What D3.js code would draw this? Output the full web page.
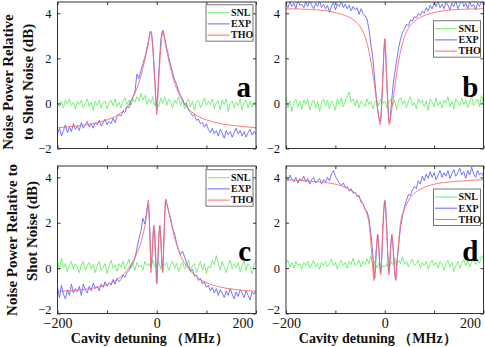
<!DOCTYPE html>
<html>
<head>
<meta charset="utf-8">
<title></title>
<script src="https://cdn.jsdelivr.net/npm/d3@7"></script>
<style>
  body { margin: 0; background: #fff; }
  svg { display: block; }
  svg text { font-family: "Liberation Serif", "Times New Roman", serif !important; }
  .tick line { stroke: #333; }
</style>
</head>
<body>
<script>
// detuning grids (MHz) for the measured traces
const snlDetuning = d3.range(-200, 201, 4);
const expDetuning = d3.range(-200, -24, 4).concat(d3.range(-24, 24, 2), d3.range(24, 201, 4));

// ---- panel a ----
const snlA = [
  0.05, -0.15, 0.1, -0.2, 0.15, -0.05, 0.2, -0.1, 0.05, -0.25,
  0.1, -0.05, 0.15, -0.2, 0.0, 0.2, -0.15, 0.05, -0.3, 0.1,
  -0.1, 0.15, -0.2, 0.05, 0.1, -0.25, 0.0, 0.15, -0.1, 0.2,
  -0.15, 0.05, -0.2, 0.1, 0.25, -0.05, 0.15, -0.1, 0.2, 0.05,
  0.3, 0.1, 0.45, 0.15, 0.35, -0.05, 0.2, 0.0, 0.3, -0.1,
  0.05,
  -0.15, 0.25, 0.0, 0.3, -0.1, 0.2, 0.05, -0.2, 0.15, 0.0,
  0.3, -0.1, 0.15, -0.25, 0.05, 0.2, -0.15, 0.1, -0.3, 0.05,
  0.15, -0.2, 0.0, 0.25, -0.1, 0.1, -0.05, 0.2, -0.25, 0.05,
  0.1, -0.3, 0.15, -0.05, 0.2, -0.35, 0.0, 0.1, -0.2, 0.05,
  -0.1, 0.2, -0.3, 0.05, 0.15, -0.2, 0.1, -0.15, 0.05, 0.0
];
const expA = [
  -1.35, -1.1, -1.45, -1.2, -0.95, -1.3, -1.05, -1.25, -0.9, -1.15,
  -1.0, -1.2, -0.85, -1.1, -0.95, -0.8, -1.05, -0.9, -1.1, -0.85,
  -0.95, -0.75, -1.0, -0.85, -0.7, -0.95, -0.8, -0.9, -0.65, -0.85,
  -0.6, -0.5, -0.55, -0.35, -0.4, -0.15, -0.2, 0.1, 0.3, 0.5,
  1.3, 1.1, 1.45, 1.75,
  2.05, 2.2, 2.45, 2.6, 2.85, 3.1, 3.2, 3.05, 2.6, 1.9, 1.1, 0.3,
  -0.3, 0.4, 1.3, 2.1, 2.75, 3.1, 3.25, 3.1, 2.9, 2.7, 2.45, 2.3,
  2.05, 1.7, 1.35, 1.05, 0.85, 0.55, 0.35, 0.2, -0.05, 0.0,
  -0.3, -0.4, -0.55, -0.5, -0.75, -0.7, -0.9, -0.85, -1.05, -0.9,
  -1.15, -1.3, -1.1, -1.35, -1.2, -1.45, -1.15, -1.3, -1.55, -1.2,
  -1.4, -1.25, -1.5, -1.3, -1.1, -1.35, -1.2, -1.45, -1.25, -1.5,
  -1.3, -1.15, -1.4, -1.25, -1.35
];
const thoDetuningA = [-200, -175, -150, -125, -100, -80, -60, -50, -40, -30, -25, -20, -16, -13, -10, -7, -4, -2, 0,
  2, 4, 7, 10, 13, 16, 20, 25, 30, 40, 50, 60, 80, 100, 125, 150, 175, 200];
const thoA = [-1.08, -1.03, -0.97, -0.88, -0.73, -0.53, -0.14, 0.19, 0.67, 1.37, 1.84, 2.35, 2.8, 3.2, 2.9, 2.1, 1.0, 0.2, -0.5,
  0.2, 1.0, 2.1, 2.9, 3.22, 2.8, 2.35, 1.84, 1.37, 0.67, 0.19, -0.14, -0.53, -0.73, -0.88, -0.97, -1.03, -1.08];

// ---- panel b ----
const snlB = [
  0.3, -0.2, 0.1, -0.35, 0.05, 0.2, -0.15, 0.1, -0.25, 0.15,
  -0.05, 0.2, -0.3, 0.0, 0.15, -0.2, 0.1, -0.35, 0.05, 0.2,
  -0.1, 0.15, -0.25, 0.1, 0.0, -0.3, 0.2, -0.05, 0.25, -0.15,
  0.1, 0.3, 0.5, 0.05, 0.2, -0.1, 0.15, -0.2, 0.1, 0.0,
  -0.15, 0.2, -0.05, 0.1, -0.25, 0.05, 0.15, -0.1, 0.2, 0.0,
  0.1,
  -0.2, 0.05, 0.2, -0.1, 0.15, -0.3, 0.1, 0.25, -0.05, 0.15,
  -0.2, 0.1, 0.3, -0.1, 0.05, -0.25, 0.2, 0.0, 0.15, -0.15,
  0.1, -0.3, 0.2, 0.05, -0.15, 0.25, -0.1, 0.1, -0.2, 0.15,
  0.0, 0.3, -0.15, 0.1, -0.25, 0.2, 0.05, -0.1, 0.25, -0.05,
  0.15, -0.2, 0.1, 0.3, -0.1, 0.05, 0.2, -0.15, 0.35, -0.05
];
const expB = [
  4.4, 4.25, 4.5, 4.3, 4.45, 4.2, 4.6, 4.35, 4.4, 4.25,
  4.5, 4.3, 4.6, 4.35, 4.2, 4.45, 4.3, 4.55, 4.25, 4.4,
  4.2, 4.35, 4.05, 4.3, 4.5, 4.15, 4.4, 4.3, 4.55, 4.25,
  4.4, 4.2, 4.35, 4.1, 4.3, 4.15, 4.25, 3.95, 4.2, 4.0,
  3.9, 3.75, 3.3, 2.6,
  2.0, 1.5, 1.0, 0.5, 0.0, -0.35, -0.6, -0.8, -0.75, 0.0, 1.1, 2.2,
  2.85, 2.2, 1.1, 0.0, -0.75, -0.85, -0.4, 0.1, 0.6, 1.0, 1.3, 1.6,
  1.9, 2.45, 2.85, 3.15, 3.3, 3.5, 3.45, 3.7, 3.65, 3.85,
  3.8, 4.0, 3.9, 4.1, 4.0, 4.25, 4.1, 4.35, 4.2, 4.45,
  4.3, 4.55, 4.25, 4.4, 4.2, 4.5, 4.35, 4.15, 4.45, 4.3,
  4.55, 4.2, 4.4, 4.6, 4.3, 4.45, 4.2, 4.5, 4.3, 4.4,
  4.15, 4.45, 4.3, 4.55, 4.35
];
const thoDetuningB = [-200, -150, -100, -75, -60, -50, -40, -34, -30, -26, -22, -18, -14, -11, -9, -7, -5, -3, -1.5, 0,
  1.5, 3, 5, 7, 9, 11, 14, 18, 22, 26, 30, 34, 40, 50, 60, 75, 100, 150, 200];
const thoB = [4.2, 4.17, 4.03, 3.85, 3.65, 3.4, 2.96, 2.5, 2.1, 1.6, 1.0, 0.35, -0.3, -0.75, -0.95, -0.3, 0.6, 1.6, 2.4, 2.88,
  2.4, 1.6, 0.6, -0.3, -0.95, -0.75, -0.3, 0.35, 1.0, 1.6, 2.1, 2.5, 2.96, 3.4, 3.65, 3.85, 4.03, 4.17, 4.2];

// ---- panel c ----
const snlC = [
  0.3, -0.1, 0.45, 0.0, 0.2, -0.15, 0.1, 0.3, -0.05, 0.2,
  0.05, -0.2, 0.15, 0.3, -0.1, 0.1, 0.25, -0.05, 0.15, -0.2,
  0.1, 0.3, -0.1, 0.05, 0.2, -0.25, 0.1, 0.35, 0.0, 0.15,
  -0.15, 0.2, 0.05, 0.3, -0.05, 0.15, 0.4, 0.0, 0.2, -0.1,
  0.25, 0.05, 0.15, -0.1, 0.3, 0.1, 0.2, 0.0, 0.35, 0.05,
  0.15,
  0.3, -0.05, 0.2, 0.1, 0.25, -0.1, 0.15, 0.3, 0.0, 0.2,
  -0.15, 0.1, 0.25, -0.05, 0.15, 0.35, -0.1, 0.1, 0.2, -0.2,
  0.05, 0.3, -0.1, 0.2, -0.25, 0.1, 0.0, 0.35, 0.15, 0.55,
  0.2, -0.1, 0.3, 0.05, -0.2, 0.15, 0.35, -0.05, 0.2, 0.0,
  0.25, -0.15, 0.1, 0.3, -0.1, 0.2, 0.05, -0.25, 0.15, 0.3
];
const expC = [
  -0.85, -1.3, -0.75, -1.15, -1.35, -0.95, -1.2, -0.7, -1.1, -0.9,
  -1.05, -0.8, -1.2, -0.7, -0.95, -1.1, -0.8, -1.0, -0.65, -0.9,
  -0.8, -1.0, -0.7, -0.85, -0.6, -0.8, -0.65, -0.75, -0.5, -0.7,
  -0.45, -0.6, -0.5, -0.3, -0.4, -0.2, -0.1, 0.1, 0.2, 0.45,
  0.85, 1.3, 1.6, 2.2,
  1.95, 2.25, 2.55, 2.85, 2.6, 1.6, 0.1, 0.3, 1.2, 1.85, 1.6, 0.5,
  -0.65, 0.3, 1.3, 1.85, 1.4, 0.4, -0.15, 0.9, 2.3, 3.0, 2.85, 2.7,
  2.5, 2.2, 1.75, 1.5, 1.1, 0.8, 0.6, 0.75, 0.5, 0.25,
  0.05, -0.15, -0.05, -0.35, -0.3, -0.55, -0.45, -0.7, -0.6, -0.85,
  -0.75, -1.0, -0.85, -1.1, -0.9, -1.2, -0.95, -1.1, -1.3, -1.0,
  -1.2, -0.9, -1.15, -1.35, -1.05, -1.25, -0.95, -1.1, -1.3, -1.0,
  -1.2, -1.4, -1.05, -1.15, -1.0
];
const thoDetuningC = [-200, -175, -150, -125, -100, -80, -60, -50, -40, -33, -27, -22, -19, -17, -15, -13, -11.5, -9.5, -7.5, -6, -4.5, -2.5, 0,
  2.5, 4.5, 6, 7.5, 9.5, 12, 14, 16, 18, 20, 23, 27, 33, 40, 50, 60, 80, 100, 125, 150, 175, 200];
const thoC = [-1.03, -1.0, -0.95, -0.87, -0.72, -0.5, -0.1, 0.22, 0.65, 1.05, 1.55, 2.1, 2.6, 3.0, 2.3, 0.8, -0.2, 0.6, 1.5, 1.9, 1.5, 0.4, -0.7,
  0.4, 1.5, 1.9, 1.5, 0.6, -0.2, 0.9, 2.3, 3.05, 2.85, 2.6, 2.2, 1.6, 1.05, 0.45, 0.1, -0.38, -0.64, -0.82, -0.92, -0.98, -1.02];

// ---- panel d ----
const snlD = [
  0.2, 0.35, 0.05, 0.25, 0.0, 0.3, 0.1, 0.2, -0.05, 0.25,
  0.1, 0.3, 0.0, 0.15, 0.35, 0.05, 0.2, -0.05, 0.25, 0.1,
  0.3, 0.05, 0.2, 0.4, 0.1, 0.25, -0.05, 0.2, 0.35, 0.1,
  0.25, 0.0, 0.3, 0.15, 0.45, 0.1, 0.2, 0.35, 0.05, 0.3,
  0.15, 0.4, 0.2, 0.55, 0.1, 0.3, 0.0, 0.2, -0.05, 0.1,
  0.05,
  0.2, -0.05, 0.3, 0.15, 0.45, 0.1, 0.35, 0.2, 0.5, 0.15,
  0.3, 0.05, 0.25, 0.4, 0.1, 0.2, 0.35, 0.0, 0.25, 0.1,
  0.3, -0.05, 0.2, 0.35, 0.1, 0.25, 0.0, 0.3, 0.15, -0.1,
  0.2, 0.35, 0.05, 0.25, -0.15, 0.1, 0.3, 0.0, 0.2, 0.4,
  0.1, 0.3, 0.05, 0.25, 0.45, 0.15, 0.35, 0.2, 0.55, 0.4
];
const expD = [
  4.05, 3.85, 4.1, 3.9, 3.8, 4.0, 3.75, 3.95, 3.85, 4.05,
  3.8, 3.95, 3.7, 3.9, 4.0, 3.75, 3.85, 3.95, 3.7, 3.9,
  3.8, 4.0, 3.85, 4.15, 4.3, 4.05, 3.9, 3.75, 3.65, 3.75,
  3.55, 3.6, 3.4, 3.5, 3.3, 3.35, 3.15, 3.2, 2.9, 2.85,
  2.6, 2.5, 2.2, 1.5,
  0.6, -0.3, -0.45, 0.4, 1.1, 1.45, 0.9, 0.1, -0.2, 0.5, 1.6, 2.5,
  2.95, 2.6, 1.8, 0.7, -0.15, 0.2, 1.0, 1.45, 1.2, 0.5, -0.2, -0.5,
  0.1, 1.0, 1.8, 2.3, 2.7, 3.0, 3.25, 3.2, 3.45, 3.6,
  3.5, 3.85, 3.7, 4.05, 3.85, 4.15, 3.95, 4.25, 4.0, 4.2,
  3.9, 4.1, 4.3, 4.0, 4.2, 4.05, 4.3, 3.95, 4.15, 4.35,
  4.05, 4.2, 4.4, 4.1, 4.25, 3.95, 4.3, 4.1, 4.45, 4.15,
  4.0, 4.3, 4.1, 4.2, 4.05
];
const thoDetuningD = [-200, -150, -100, -75, -60, -50, -40, -35, -32, -28, -25, -22, -20, -18, -16, -14.5, -13, -11, -8.5, -6, -4, -2, 0,
  2, 4, 6, 8.5, 11, 13, 14.5, 16, 18, 20, 22, 25, 28, 32, 35, 40, 50, 60, 75, 100, 150, 200];
const thoD = [3.9, 3.83, 3.7, 3.5, 3.3, 3.05, 2.6, 2.3, 2.0, 1.1, 0.3, -0.55, -0.1, 0.6, 1.2, 1.5, 1.2, 0.4, -0.3, 0.6, 1.7, 2.6, 3.0,
  2.6, 1.7, 0.6, -0.3, 0.4, 1.2, 1.5, 1.2, 0.6, -0.1, -0.55, 0.3, 1.1, 2.0, 2.3, 2.6, 3.05, 3.3, 3.5, 3.7, 3.83, 3.9];

const xTicks = [-200, -100, 0, 100, 200];
const xTickLabels = {"-200": "\u2212200", "0": "0", "200": "200"};
const yTicks = [-2, 0, 2, 4];
const yTickLabels = {"-2": "\u22122", "0": "0", "2": "2", "4": "4"};
const seriesNames = ["SNL", "EXP", "THO"];
const seriesColors = ["#6af06a", "#6666ff", "#ff6a6a"];

const panels = [
  {letter: "a", snl: snlA, exp: expA, thoX: thoDetuningA, tho: thoA, x0: 57.5, x1: 256, y0: 2, y1: 148.5, legendTop: 2.7, bottomRow: false},
  {letter: "b", snl: snlB, exp: expB, thoX: thoDetuningB, tho: thoB, x0: 286, x1: 483.5, y0: 2, y1: 148.5, legendTop: 18.7, bottomRow: false},
  {letter: "c", snl: snlC, exp: expC, thoX: thoDetuningC, tho: thoC, x0: 57.5, x1: 256, y0: 166, y1: 313.5, legendTop: 3.7, bottomRow: true},
  {letter: "d", snl: snlD, exp: expD, thoX: thoDetuningD, tho: thoD, x0: 286, x1: 483.5, y0: 166, y1: 313.5, legendTop: 23, bottomRow: true}
];

const svg = d3.select("body").append("svg")
  .attr("width", 485)
  .attr("height", 347);

panels.forEach(function(p, i) {
  const x = d3.scaleLinear().domain([-200, 200]).range([p.x0, p.x1]);
  const y = d3.scaleLinear().domain([-2, 4.5]).range([p.y1, p.y0]);
  const g = svg.append("g");

  g.append("clipPath").attr("id", "clip" + i)
    .append("rect")
    .attr("x", p.x0).attr("y", p.y0)
    .attr("width", p.x1 - p.x0).attr("height", p.y1 - p.y0);

  const line = d3.line().x(d => x(d[0])).y(d => y(d[1]));
  const smooth = d3.line().x(d => x(d[0])).y(d => y(d[1])).curve(d3.curveMonotoneX);

  const plot = g.append("g").attr("clip-path", "url(#clip" + i + ")");
  plot.append("path")
    .datum(snlDetuning.map((v, k) => [v, p.snl[k]]))
    .attr("d", line).attr("fill", "none")
    .attr("stroke", seriesColors[0]).attr("stroke-width", 0.9);
  plot.append("path")
    .datum(expDetuning.map((v, k) => [v, p.exp[k]]))
    .attr("d", line).attr("fill", "none")
    .attr("stroke", seriesColors[1]).attr("stroke-width", 0.9);
  plot.append("path")
    .datum(p.thoX.map((v, k) => [v, p.tho[k]]))
    .attr("d", smooth).attr("fill", "none")
    .attr("stroke", seriesColors[2]).attr("stroke-width", 0.9);

  // axes, ticks pointing inwards on all four sides
  const bottom = g.append("g")
    .attr("transform", "translate(0," + p.y1 + ")")
    .call(d3.axisBottom(x).tickValues(xTicks).tickSize(-3).tickPadding(4.5)
      .tickFormat(d => p.bottomRow ? (xTickLabels[d] || "") : ""));
  g.append("g")
    .attr("transform", "translate(0," + p.y0 + ")")
    .call(d3.axisTop(x).tickValues(xTicks).tickSize(-3).tickFormat(""));
  const left = g.append("g")
    .attr("transform", "translate(" + p.x0 + ",0)")
    .call(d3.axisLeft(y).tickValues(yTicks).tickSize(-3).tickPadding(6)
      .tickFormat(d => yTickLabels[d]));
  g.append("g")
    .attr("transform", "translate(" + p.x1 + ",0)")
    .call(d3.axisRight(y).tickValues(yTicks).tickSize(-3).tickFormat(""));

  g.selectAll(".domain").remove();
  g.selectAll(".tick text")
    .attr("font-size", 12.5)
    .attr("fill", "#111");
  bottom.selectAll(".tick text")
    .attr("font-size", 14)
    .filter(d => d === 200)
    .attr("text-anchor", "end")
    .attr("x", -3);
  if (p.bottomRow) {
    // lowest y label sits a little higher so it clears the x labels
    left.selectAll(".tick text").filter(d => d === -2).attr("y", -4);
  }

  g.append("rect")
    .attr("x", p.x0).attr("y", p.y0)
    .attr("width", p.x1 - p.x0).attr("height", p.y1 - p.y0)
    .attr("fill", "none").attr("stroke", "#333").attr("stroke-width", 1);

  // legend
  const lx = p.x1 - 50, ly = p.y0 + p.legendTop;
  const leg = g.append("g").attr("transform", "translate(" + lx + "," + ly + ")");
  leg.append("rect")
    .attr("width", 47).attr("height", 36.5)
    .attr("fill", "#fff").attr("stroke", "#777").attr("stroke-width", 1);
  seriesNames.forEach(function(name, k) {
    const ry = 8 + k * 11.2;
    leg.append("line")
      .attr("x1", 1.5).attr("x2", 23.5).attr("y1", ry).attr("y2", ry)
      .attr("stroke", seriesColors[k]).attr("stroke-width", 1);
    leg.append("text")
      .attr("x", 25).attr("y", ry + 3.4)
      .attr("font-size", 10).attr("font-weight", "bold")
      .attr("fill", "#111")
      .text(name);
  });

  // panel letter
  g.append("text")
    .attr("x", p.x1 - 5).attr("y", p.y0 + 95)
    .attr("text-anchor", "end")
    .attr("font-size", 29).attr("font-weight", "bold")
    .attr("fill", "#000")
    .text(p.letter);

  if (p.bottomRow) {
    g.append("text")
      .attr("x", (p.x0 + p.x1) / 2 - 7).attr("y", 342.5)
      .attr("text-anchor", "middle")
      .attr("font-size", 14).attr("font-weight", "bold")
      .attr("fill", "#111")
      .text("Cavity detuning \uFF08MHz\uFF09");
  }
});

// y axis titles (two lines each)
const yTitles = [
  {lines: ["Noise Power Relative", "to Shot Noise (dB)"], cx: [13, 33], cy: [82, 82]},
  {lines: ["Noise Power Relative to", "Shot Noise (dB)"], cx: [17, 37], cy: [240, 231]}
];
yTitles.forEach(function(t) {
  t.lines.forEach(function(s, k) {
    svg.append("text")
      .attr("transform", "translate(" + t.cx[k] + "," + t.cy[k] + ") rotate(-90)")
      .attr("text-anchor", "middle")
      .attr("font-size", 15).attr("font-weight", "bold")
      .attr("fill", "#111")
      .text(s);
  });
});
</script>
</body>
</html>
